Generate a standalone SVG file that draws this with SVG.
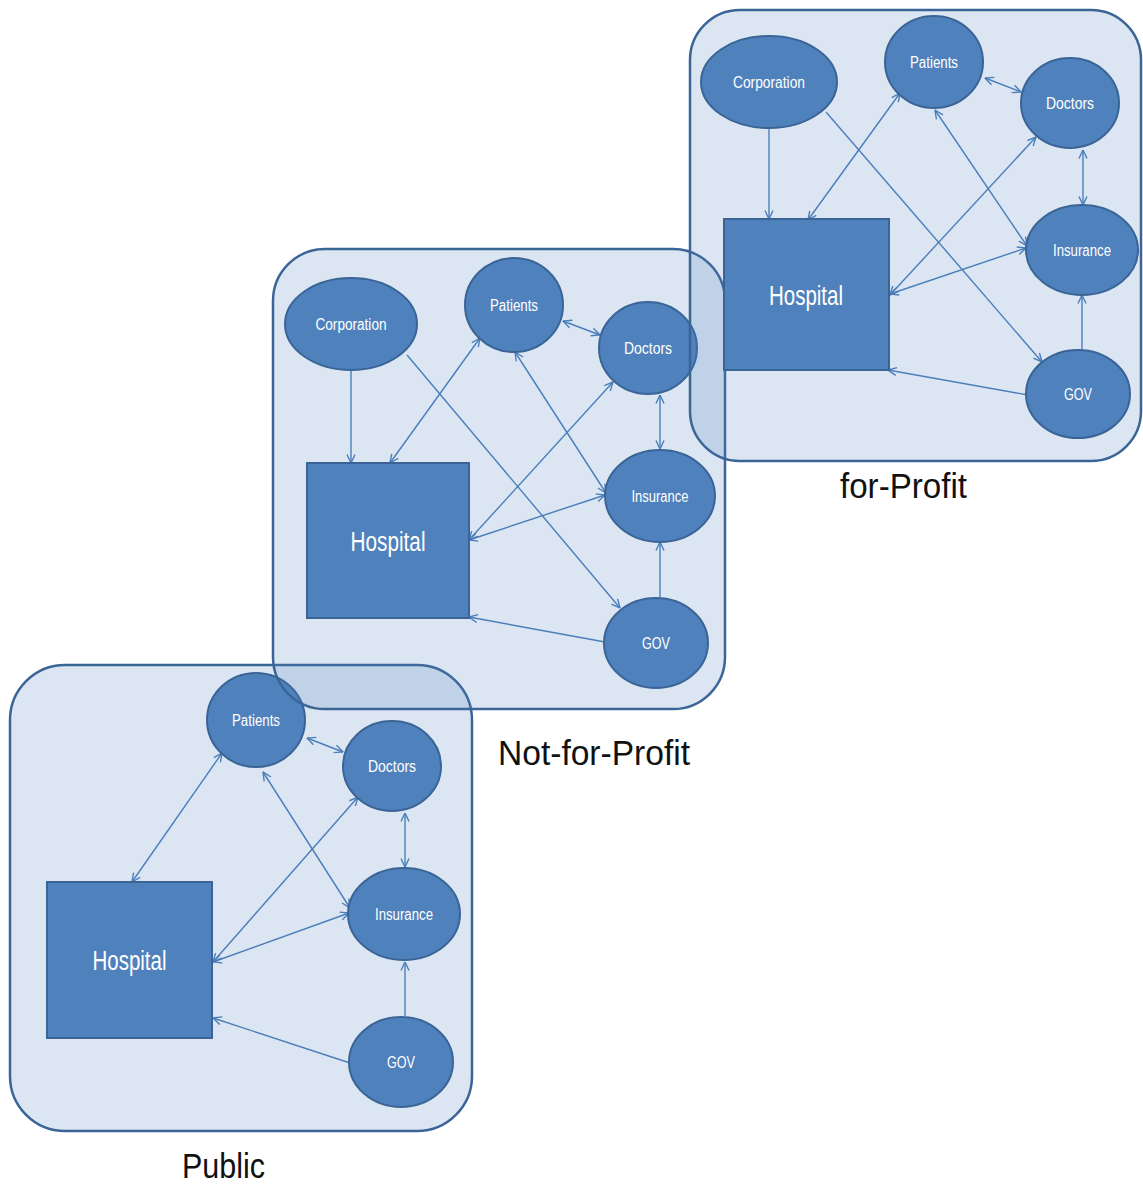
<svg xmlns="http://www.w3.org/2000/svg" width="1143" height="1190" viewBox="0 0 1143 1190">
  <style>
    .panel { fill: #4F81BD; fill-opacity: 0.2; stroke: #3B6597; stroke-width: 2.5; }
    .node { fill: #4F81BD; stroke: #3A6496; stroke-width: 2; }
    .hosp { fill: #4F81BD; stroke: #3A6496; stroke-width: 2; }
    .lbl { font-family: "Liberation Sans", Arial, sans-serif; font-size: 16px; fill: #FFFFFF; text-anchor: middle; }
    .hlbl { font-family: "Liberation Sans", Arial, sans-serif; font-size: 27px; fill: #FFFFFF; text-anchor: middle; }
    .title { font-family: "Liberation Sans", Arial, sans-serif; font-size: 35px; fill: #111111; text-anchor: middle; }
    .c { stroke: #4A7EBB; stroke-width: 1.4; fill: none; }
    .one { marker-end: url(#arr); }
    .two { marker-start: url(#arr); marker-end: url(#arr); }
  </style>
  <defs>
    <marker id="arr" viewBox="0 0 10 10" refX="9.5" refY="5" markerWidth="10" markerHeight="10" markerUnits="userSpaceOnUse" orient="auto-start-reverse">
      <path d="M1,1 L9.5,5 L1,9" fill="none" stroke="#4A7EBB" stroke-width="1.4"/>
    </marker>
  </defs>
  <rect width="1143" height="1190" fill="#FFFFFF"/>

  <!-- Public -->
  <rect id="panel-public" class="panel" x="10" y="665" width="462" height="466" rx="55"/>
  <g id="connectors-public">
    <line class="c two" x1="222" y1="753" x2="132" y2="882"/>
    <line class="c two" x1="307" y1="738" x2="343" y2="752"/>
    <line class="c two" x1="263" y1="772" x2="350" y2="908"/>
    <line class="c two" x1="358" y1="797" x2="213" y2="962"/>
    <line class="c two" x1="349" y1="913" x2="213" y2="962"/>
    <line class="c two" x1="405" y1="813" x2="405" y2="867"/>
    <line class="c one" x1="405" y1="1016" x2="405" y2="962"/>
    <line class="c one" x1="350" y1="1063" x2="213" y2="1018"/>
  </g>
  <g id="pub-hospital"><rect class="hosp" x="47" y="882" width="165" height="156"/><text class="hlbl" x="129.5" y="970" textLength="74" lengthAdjust="spacingAndGlyphs">Hospital</text></g>
  <g id="pub-patients"><ellipse class="node" cx="256" cy="720" rx="49" ry="47"/><text class="lbl" x="256" y="726" textLength="48" lengthAdjust="spacingAndGlyphs">Patients</text></g>
  <g id="pub-doctors"><ellipse class="node" cx="392" cy="766" rx="49" ry="45"/><text class="lbl" x="392" y="772" textLength="48" lengthAdjust="spacingAndGlyphs">Doctors</text></g>
  <g id="pub-insurance"><ellipse class="node" cx="404" cy="914" rx="56" ry="46"/><text class="lbl" x="404" y="920" textLength="58" lengthAdjust="spacingAndGlyphs">Insurance</text></g>
  <g id="pub-gov"><ellipse class="node" cx="401" cy="1062" rx="52" ry="45"/><text class="lbl" x="401" y="1068" textLength="28" lengthAdjust="spacingAndGlyphs">GOV</text></g>

  <!-- Not-for-Profit -->
  <rect id="panel-nfp" class="panel" x="273" y="249" width="452" height="460" rx="52"/>
  <g id="connectors-nfp">
    <line class="c one" x1="351" y1="371" x2="351" y2="463"/>
    <line class="c one" x1="407" y1="355" x2="620" y2="608"/>
    <line class="c two" x1="480" y1="338" x2="390" y2="463"/>
    <line class="c two" x1="563" y1="321" x2="600" y2="335"/>
    <line class="c two" x1="515" y1="352" x2="606" y2="493"/>
    <line class="c two" x1="613" y1="382" x2="469" y2="540"/>
    <line class="c two" x1="605" y1="495" x2="469" y2="540"/>
    <line class="c two" x1="660" y1="395" x2="660" y2="449"/>
    <line class="c one" x1="660" y1="597" x2="660" y2="542"/>
    <line class="c one" x1="605" y1="642" x2="469" y2="617"/>
  </g>
  <g id="nfp-corporation"><ellipse class="node" cx="351" cy="324" rx="66" ry="46"/><text class="lbl" x="351" y="330" textLength="71" lengthAdjust="spacingAndGlyphs">Corporation</text></g>
  <g id="nfp-hospital"><rect class="hosp" x="307" y="463" width="162" height="155"/><text class="hlbl" x="388" y="551" textLength="75" lengthAdjust="spacingAndGlyphs">Hospital</text></g>
  <g id="nfp-patients"><ellipse class="node" cx="514" cy="305" rx="49" ry="47"/><text class="lbl" x="514" y="311" textLength="48" lengthAdjust="spacingAndGlyphs">Patients</text></g>
  <g id="nfp-doctors"><ellipse class="node" cx="648" cy="348" rx="49" ry="46"/><text class="lbl" x="648" y="354" textLength="48" lengthAdjust="spacingAndGlyphs">Doctors</text></g>
  <g id="nfp-insurance"><ellipse class="node" cx="660" cy="496" rx="55" ry="46"/><text class="lbl" x="660" y="502" textLength="57" lengthAdjust="spacingAndGlyphs">Insurance</text></g>
  <g id="nfp-gov"><ellipse class="node" cx="656" cy="643" rx="52" ry="45"/><text class="lbl" x="656" y="649" textLength="28" lengthAdjust="spacingAndGlyphs">GOV</text></g>

  <!-- for-Profit -->
  <rect id="panel-fp" class="panel" x="690" y="10" width="451" height="451" rx="50"/>
  <g id="connectors-fp">
    <line class="c one" x1="769" y1="129" x2="769" y2="219"/>
    <line class="c one" x1="826" y1="112" x2="1042" y2="362"/>
    <line class="c two" x1="900" y1="93" x2="808" y2="220"/>
    <line class="c two" x1="985" y1="78" x2="1021" y2="92"/>
    <line class="c two" x1="935" y1="110" x2="1027" y2="246"/>
    <line class="c two" x1="1036" y1="137" x2="890" y2="295"/>
    <line class="c two" x1="1026" y1="248" x2="890" y2="294"/>
    <line class="c two" x1="1083" y1="150" x2="1083" y2="205"/>
    <line class="c one" x1="1082" y1="350" x2="1082" y2="295"/>
    <line class="c one" x1="1028" y1="395" x2="888" y2="370"/>
  </g>
  <g id="fp-corporation"><ellipse class="node" cx="769" cy="82" rx="68" ry="46"/><text class="lbl" x="769" y="88" textLength="72" lengthAdjust="spacingAndGlyphs">Corporation</text></g>
  <g id="fp-hospital"><rect class="hosp" x="724" y="219" width="165" height="151"/><text class="hlbl" x="806" y="305" textLength="74" lengthAdjust="spacingAndGlyphs">Hospital</text></g>
  <g id="fp-patients"><ellipse class="node" cx="934" cy="62" rx="49" ry="46"/><text class="lbl" x="934" y="68" textLength="48" lengthAdjust="spacingAndGlyphs">Patients</text></g>
  <g id="fp-doctors"><ellipse class="node" cx="1070" cy="103" rx="49" ry="45"/><text class="lbl" x="1070" y="109" textLength="48" lengthAdjust="spacingAndGlyphs">Doctors</text></g>
  <g id="fp-insurance"><ellipse class="node" cx="1082" cy="250" rx="56" ry="45"/><text class="lbl" x="1082" y="256" textLength="58" lengthAdjust="spacingAndGlyphs">Insurance</text></g>
  <g id="fp-gov"><ellipse class="node" cx="1078" cy="394" rx="52" ry="44"/><text class="lbl" x="1078" y="400" textLength="28" lengthAdjust="spacingAndGlyphs">GOV</text></g>

  <!-- panel titles -->
  <text class="title" x="903.5" y="498" textLength="127" lengthAdjust="spacingAndGlyphs">for-Profit</text>
  <text class="title" x="594" y="765" textLength="192" lengthAdjust="spacingAndGlyphs">Not-for-Profit</text>
  <text class="title" x="223.5" y="1178" textLength="83" lengthAdjust="spacingAndGlyphs">Public</text>
</svg>
